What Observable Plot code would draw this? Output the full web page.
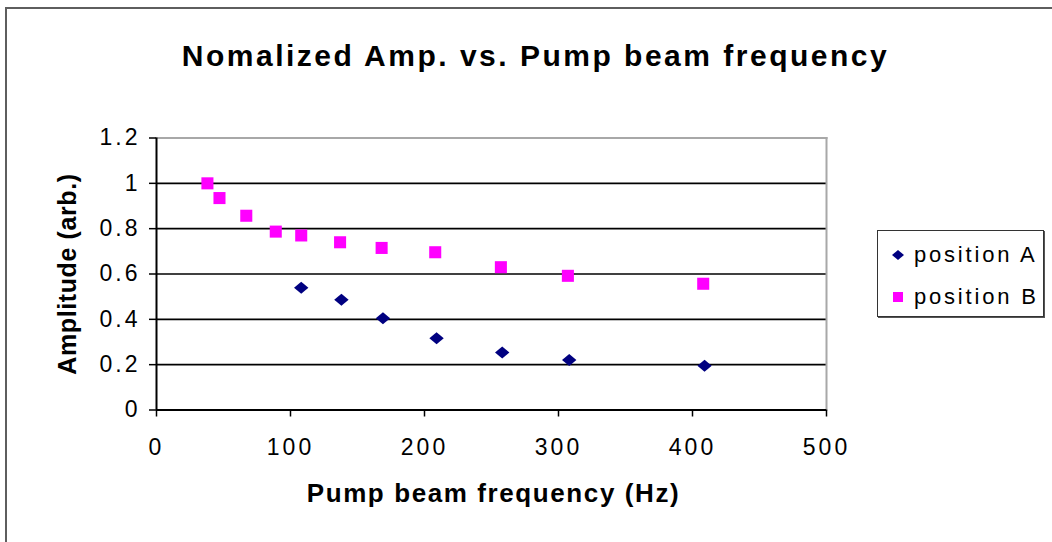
<!DOCTYPE html>
<html>
<head>
<meta charset="utf-8">
<script src="https://cdn.jsdelivr.net/npm/d3@7"></script>
<script src="https://cdn.jsdelivr.net/npm/@observablehq/plot@0.6"></script>
<style>
  html, body { margin: 0; padding: 0; background: #fff; }
  #wrap { position: relative; width: 1052px; height: 542px; overflow: hidden; font-family: "Liberation Sans", Arial, sans-serif; }
  #border { position: absolute; left: 5px; top: 7px; width: 1100px; height: 600px; border-left: 2px solid #5e5e5e; border-top: 2px solid #5e5e5e; }
  #legend { position: absolute; left: 877px; top: 230px; width: 165px; height: 85px; border: 1px solid #333; box-shadow: 1px 1px 0 #555; background: #fff; }
  .item { position: absolute; left: 0; height: 30px; display: flex; align-items: center; font-size: 22px; letter-spacing: 2.8px; color: #000; white-space: nowrap; }
  .item svg { margin-left: 13px; margin-right: 9px; }
</style>
</head>
<body>
<div id="wrap">
  <div id="border"></div>
  <div id="chart"></div>
  <div id="legend"></div>
</div>
<script>
// ---- data ----
const seriesNames = ["position A", "position B"];
const freqA = [108, 138, 169, 209, 258, 308, 409];
const ampA  = [0.539, 0.486, 0.405, 0.317, 0.254, 0.221, 0.195];
const freqB = [38, 47, 67, 89, 108, 137, 168, 208, 257, 307, 408];
const ampB  = [1.0, 0.935, 0.857, 0.787, 0.77, 0.74, 0.715, 0.696, 0.63, 0.592, 0.557];
const xTicks = [0, 100, 200, 300, 400, 500];
const yTicks = [0, 0.2, 0.4, 0.6, 0.8, 1, 1.2];
const gridTicks = [0.2, 0.4, 0.6, 0.8, 1];
const titleText = "Nomalized Amp. vs. Pump beam frequency";
const xLabel = "Pump beam frequency (Hz)";
const yLabel = "Amplitude (arb.)";
const colorA = "#000080";
const colorB = "#ff00ff";

const dataA = freqA.map((f, i) => ({freq: f, amp: ampA[i]}));
const dataB = freqB.map((f, i) => ({freq: f, amp: ampB[i]}));

const wideDiamond = {
  draw(context, size) {
    const s = Math.sqrt(size / Math.PI);
    context.moveTo(0, -s);
    context.lineTo(1.2 * s, 0);
    context.lineTo(0, s);
    context.lineTo(-1.2 * s, 0);
    context.closePath();
  }
};

const chart = Plot.plot({
  width: 1052,
  height: 542,
  marginLeft: 156,
  marginRight: 226,
  marginTop: 137.5,
  marginBottom: 132.5,
  style: {fontFamily: "'Liberation Sans', Arial, sans-serif", background: "transparent", color: "#000"},
  x: {domain: [0, 500], axis: null},
  y: {domain: [0, 1.2], axis: null},
  marks: [
    Plot.gridY(gridTicks, {stroke: "#000", strokeOpacity: 1, strokeWidth: 1.6}),
    Plot.frame({anchor: "top", stroke: "#a8a8a8", strokeWidth: 2}),
    Plot.frame({anchor: "right", stroke: "#a8a8a8", strokeWidth: 2}),
    Plot.axisY(yTicks, {tickSize: 7, tickPadding: 9, fontSize: 23, strokeWidth: 1.5, label: null, tickFormat: d => String(d)}),
    Plot.axisX(xTicks, {tickSize: 7, tickPadding: 22, fontSize: 23, strokeWidth: 1.5, label: null, tickFormat: d => String(d)}),
    Plot.ruleX([0], {stroke: "#000", strokeWidth: 2}),
    Plot.ruleY([0], {stroke: "#000", strokeWidth: 2}),
    Plot.dot(dataA, {x: "freq", y: "amp", symbol: wideDiamond, r: 6, fill: colorA, stroke: null}),
    Plot.dot(dataB, {x: "freq", y: "amp", symbol: "square", r: 6.8, fill: colorB, stroke: null}),
    Plot.text([titleText], {text: d => d, frameAnchor: "top", dx: 44, dy: -93, fontSize: 30, fontWeight: "bold", fill: "#000"}),
    Plot.text([xLabel], {text: d => d, frameAnchor: "bottom", dx: 2, dy: 92, fontSize: 26, fontWeight: "bold", fill: "#000"}),
    Plot.text([yLabel], {text: d => d, frameAnchor: "left", textAnchor: "middle", dx: -89, dy: 0, rotate: -90, fontSize: 25, fontWeight: "bold", fill: "#000"})
  ]
});

document.getElementById("chart").appendChild(chart);
const spacing = new Map([[titleText, "2.5px"], [xLabel, "1.6px"], [yLabel, "0.6px"]]);
d3.select(chart).selectAll("text").each(function () {
  const t = this.textContent;
  if (spacing.has(t)) this.style.letterSpacing = spacing.get(t);
  else this.style.letterSpacing = "3px";
});

// legend (HTML overlay)
const legend = document.getElementById("legend");
const legendItems = [
  {name: seriesNames[0], color: colorA, shape: "diamond", top: 9},
  {name: seriesNames[1], color: colorB, shape: "square", top: 51}
];
for (const it of legendItems) {
  const div = document.createElement("div");
  div.className = "item";
  div.style.top = it.top + "px";
  const sym = it.shape === "diamond"
    ? `<svg width="14" height="14" viewBox="-7 -7 14 14"><path d="M0,-5L6,0L0,5L-6,0Z" fill="${it.color}"/></svg>`
    : `<svg width="14" height="14" viewBox="-7 -7 14 14"><rect x="-5" y="-5" width="10" height="10" fill="${it.color}"/></svg>`;
  div.innerHTML = sym + `<span>${it.name}</span>`;
  legend.appendChild(div);
}
</script>
</body>
</html>
